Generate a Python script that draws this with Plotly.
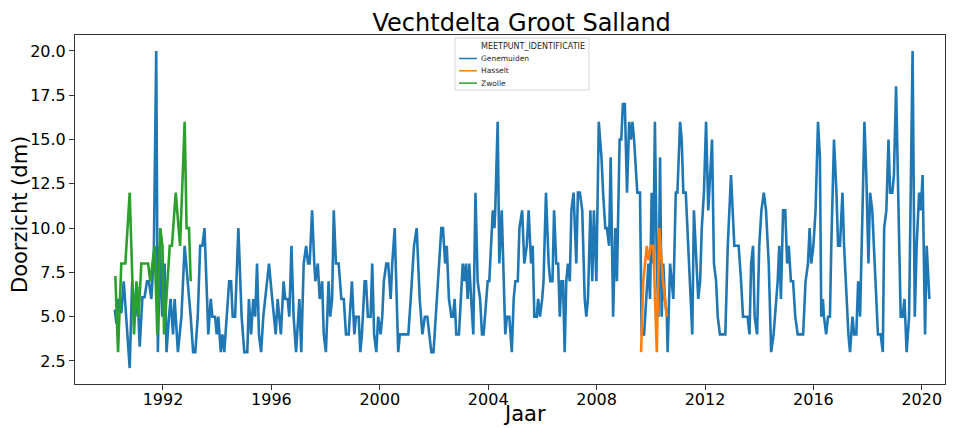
from datetime import datetime, timedelta
import plotly.graph_objects as go

# Measurement moments as decimal years, Secchi depth (dm) per station
genemuiden_jaar = [
    1990.22, 1990.28, 1990.35, 1990.46, 1990.55, 1990.65, 1990.77, 1990.86, 1990.98, 1991.05,
    1991.14, 1991.24, 1991.32, 1991.41, 1991.48, 1991.57, 1991.66, 1991.75, 1991.81, 1991.89,
    1991.97, 1992.06, 1992.13, 1992.22, 1992.28, 1992.37, 1992.43, 1992.55, 1992.68, 1992.80,
    1992.92, 1993.02, 1993.11, 1993.19, 1993.28, 1993.37, 1993.45, 1993.53, 1993.67, 1993.76,
    1993.82, 1993.92, 1993.98, 1994.04, 1994.13, 1994.19, 1994.26, 1994.35, 1994.44, 1994.51,
    1994.57, 1994.66, 1994.78, 1994.90, 1995.00, 1995.11, 1995.17, 1995.25, 1995.33, 1995.40,
    1995.47, 1995.54, 1995.62, 1995.70, 1995.91, 1996.03, 1996.16, 1996.23, 1996.35, 1996.45,
    1996.51, 1996.60, 1996.66, 1996.74, 1996.82, 1996.91, 1997.03, 1997.10, 1997.19, 1997.28,
    1997.35, 1997.41, 1997.50, 1997.58, 1997.62, 1997.71, 1997.78, 1997.87, 1997.93, 1998.01,
    1998.11, 1998.17, 1998.24, 1998.30, 1998.38, 1998.48, 1998.58, 1998.67, 1998.75, 1998.85,
    1998.97, 1999.06, 1999.12, 1999.22, 1999.28, 1999.34, 1999.44, 1999.49, 1999.56, 1999.66,
    1999.72, 1999.79, 1999.87, 1999.94, 2000.03, 2000.09, 2000.15, 2000.24, 2000.31, 2000.40,
    2000.46, 2000.55, 2000.68, 2000.74, 2000.83, 2000.95, 2001.05, 2001.14, 2001.26, 2001.36,
    2001.47, 2001.57, 2001.66, 2001.75, 2001.82, 2001.90, 2001.98, 2002.06, 2002.18, 2002.27,
    2002.33, 2002.41, 2002.47, 2002.55, 2002.64, 2002.70, 2002.76, 2002.82, 2002.92, 2003.06,
    2003.12, 2003.18, 2003.24, 2003.30, 2003.37, 2003.45, 2003.53, 2003.61, 2003.70, 2003.77,
    2003.83, 2003.92, 2003.98, 2004.04, 2004.17, 2004.23, 2004.26, 2004.35, 2004.41, 2004.50,
    2004.56, 2004.63, 2004.69, 2004.78, 2004.87, 2004.94, 2005.00, 2005.09, 2005.15, 2005.25,
    2005.33, 2005.42, 2005.49, 2005.58, 2005.64, 2005.70, 2005.79, 2005.84, 2005.91, 2005.99,
    2006.04, 2006.13, 2006.23, 2006.29, 2006.37, 2006.43, 2006.51, 2006.58, 2006.64, 2006.70,
    2006.76, 2006.82, 2006.88, 2006.94, 2007.01, 2007.07, 2007.15, 2007.25, 2007.31, 2007.38,
    2007.47, 2007.56, 2007.62, 2007.68, 2007.77, 2007.84, 2007.90, 2007.99, 2008.08, 2008.18,
    2008.24, 2008.32, 2008.38, 2008.46, 2008.52, 2008.61, 2008.69, 2008.75, 2008.85, 2008.91,
    2008.97, 2009.04, 2009.12, 2009.20, 2009.26, 2009.32, 2009.38, 2009.42, 2009.50, 2009.60,
    2009.66, 2009.75, 2009.82, 2009.91, 2009.97, 2010.03, 2010.09, 2010.15, 2010.22, 2010.28,
    2010.34, 2010.40, 2010.46, 2010.52, 2010.59, 2010.62, 2010.71, 2010.77, 2010.83, 2010.92,
    2010.98, 2011.08, 2011.14, 2011.20, 2011.29, 2011.38, 2011.45, 2011.53, 2011.59, 2011.67,
    2011.75, 2011.82, 2011.88, 2011.96, 2012.04, 2012.12, 2012.18, 2012.26, 2012.33, 2012.41,
    2012.47, 2012.55, 2012.69, 2012.75, 2012.84, 2012.96, 2013.08, 2013.16, 2013.24, 2013.33,
    2013.40, 2013.49, 2013.57, 2013.64, 2013.70, 2013.77, 2013.83, 2013.92, 2014.00, 2014.08,
    2014.17, 2014.25, 2014.35, 2014.44, 2014.53, 2014.63, 2014.68, 2014.74, 2014.80, 2014.88,
    2014.96, 2015.03, 2015.09, 2015.17, 2015.25, 2015.33, 2015.42, 2015.52, 2015.62, 2015.71,
    2015.80, 2015.86, 2015.92, 2016.00, 2016.08, 2016.17, 2016.24, 2016.29, 2016.35, 2016.39,
    2016.47, 2016.54, 2016.61, 2016.66, 2016.76, 2016.85, 2016.91, 2016.98, 2017.07, 2017.13,
    2017.22, 2017.29, 2017.35, 2017.44, 2017.50, 2017.58, 2017.65, 2017.72, 2017.81, 2017.88,
    2017.95, 2018.03, 2018.09, 2018.17, 2018.26, 2018.33, 2018.38, 2018.48, 2018.56, 2018.61,
    2018.69, 2018.77, 2018.83, 2018.91, 2018.97, 2019.05, 2019.22, 2019.29, 2019.36, 2019.44,
    2019.53, 2019.66, 2019.74, 2019.81, 2019.90, 2019.96, 2020.03, 2020.12, 2020.18, 2020.28,
]
genemuiden_dm = [
    5.4, 4.6, 6.0, 5.2, 7.0, 4.5, 2.1, 7.0, 5.0, 6.7,
    3.3, 6.1, 6.1, 7.0, 7.0, 6.0, 8.5, 20.0, 3.0, 9.0,
    5.0, 8.0, 3.0, 5.0, 6.0, 4.0, 6.0, 3.0, 5.0, 9.0,
    7.0, 5.0, 3.0, 3.0, 5.0, 9.0, 9.0, 10.0, 4.0, 6.0,
    5.0, 5.0, 4.0, 5.0, 3.0, 4.0, 3.0, 5.0, 7.0, 7.0,
    5.0, 5.0, 10.0, 5.0, 3.0, 3.0, 6.0, 4.0, 6.0, 5.0,
    8.0, 4.0, 3.0, 5.0, 8.0, 6.0, 4.0, 6.0, 4.0, 7.0,
    6.0, 6.0, 5.0, 9.0, 5.0, 3.0, 6.0, 3.0, 8.0, 9.0,
    8.0, 8.0, 11.0, 8.0, 7.0, 8.0, 6.0, 7.0, 4.0, 3.0,
    7.0, 5.0, 6.0, 11.0, 8.0, 8.0, 6.0, 6.0, 4.0, 4.0,
    7.0, 4.0, 5.0, 5.0, 3.0, 4.0, 7.0, 7.0, 5.0, 5.0,
    8.0, 4.0, 3.0, 5.0, 4.0, 5.0, 7.0, 8.0, 8.0, 6.0,
    8.0, 10.0, 3.0, 4.0, 4.0, 4.0, 4.0, 6.0, 9.0, 10.0,
    6.0, 4.0, 5.0, 5.0, 4.0, 3.0, 3.0, 5.0, 8.0, 10.0,
    10.0, 8.0, 9.0, 6.0, 5.0, 5.0, 6.0, 4.0, 4.0, 8.0,
    7.0, 8.0, 6.0, 8.0, 6.0, 4.0, 12.0, 7.0, 6.0, 4.0,
    4.0, 6.0, 7.0, 7.0, 11.0, 10.0, 11.0, 16.0, 8.0, 11.0,
    7.0, 4.0, 5.0, 5.0, 3.0, 6.0, 7.0, 7.0, 10.0, 11.0,
    8.0, 9.0, 11.0, 8.0, 9.0, 5.0, 5.0, 6.0, 5.0, 6.0,
    7.0, 12.0, 8.0, 7.0, 7.0, 11.0, 8.0, 8.0, 5.0, 7.0,
    7.0, 3.0, 7.0, 8.0, 7.0, 11.0, 12.0, 8.0, 12.0, 12.0,
    11.0, 6.0, 5.0, 6.0, 11.0, 7.0, 11.0, 7.0, 16.0, 14.0,
    12.0, 10.0, 10.0, 9.0, 14.0, 5.0, 10.0, 7.0, 15.0, 15.0,
    17.0, 17.0, 12.0, 16.0, 15.0, 16.0, 15.0, 14.0, 12.0, 12.0,
    4.0, 4.0, 6.0, 8.0, 6.0, 12.0, 8.0, 16.0, 8.0, 5.0,
    14.0, 5.0, 8.0, 6.0, 5.0, 3.0, 8.0, 7.0, 6.0, 12.0,
    12.0, 16.0, 15.0, 12.0, 12.0, 9.0, 7.0, 4.0, 11.0, 8.0,
    6.0, 7.0, 10.0, 12.0, 16.0, 11.0, 13.0, 15.0, 8.0, 7.0,
    5.0, 4.0, 4.0, 4.0, 9.0, 13.0, 9.0, 9.0, 9.0, 7.0,
    5.0, 5.0, 5.0, 4.0, 8.0, 9.0, 5.0, 4.0, 9.0, 11.0,
    12.0, 11.0, 8.0, 3.0, 4.0, 6.0, 7.0, 9.0, 6.0, 11.0,
    11.0, 8.0, 9.0, 7.0, 7.0, 5.0, 4.0, 4.0, 4.0, 7.0,
    8.0, 10.0, 8.0, 9.0, 11.0, 16.0, 14.0, 5.0, 6.0, 5.0,
    4.0, 5.0, 5.0, 9.0, 15.0, 12.0, 9.0, 9.0, 12.0, 9.0,
    6.0, 4.0, 3.0, 5.0, 4.0, 4.0, 7.0, 5.0, 11.0, 16.0,
    13.0, 8.0, 12.0, 11.0, 8.0, 5.0, 4.0, 4.0, 3.0, 10.0,
    11.0, 15.0, 12.0, 12.0, 13.0, 18.0, 5.0, 5.0, 6.0, 3.0,
    5.0, 20.0, 5.0, 9.0, 12.0, 11.0, 13.0, 4.0, 9.0, 6.0,
]

hasselt_jaar = [2009.64, 2009.72, 2009.85, 2009.91, 2010.00, 2010.09, 2010.22, 2010.31, 2010.45, 2010.59]
hasselt_dm = [3.0, 7.0, 9.0, 8.2, 9.0, 9.0, 3.0, 10.0, 7.0, 5.0]

zwolle_jaar = [
    1990.24, 1990.34, 1990.46, 1990.61, 1990.77, 1990.93, 1991.02, 1991.10, 1991.20, 1991.45,
    1991.53, 1991.69, 1991.79, 1991.90, 1991.98, 1992.04, 1992.25, 1992.33, 1992.47, 1992.63,
    1992.80, 1992.87, 1992.96, 1993.02,
]
zwolle_dm = [
    7.3, 3.0, 8.0, 8.0, 12.0, 4.0, 7.0, 5.0, 8.0, 8.0,
    7.0, 9.0, 4.0, 10.0, 9.0, 4.0, 9.0, 9.0, 12.0, 9.0,
    16.0, 10.0, 10.0, 7.0,
]

stations = ["Genemuiden", "Hasselt", "Zwolle"]
kleuren = ["#1f77b4", "#ff7f0e", "#2ca02c"]
legenda_titel = "MEETPUNT_IDENTIFICATIE"

jaar_ticks = [1992, 1996, 2000, 2004, 2008, 2012, 2016, 2020]
y_ticks = [2.5, 5.0, 7.5, 10.0, 12.5, 15.0, 17.5, 20.0]


def naar_datum(jaar):
    j = int(jaar)
    return datetime(j, 1, 1) + timedelta(days=(jaar - j) * 365.25)


FONT = "DejaVu Sans"
W, H = 959, 428
ML, MR, MT, MB = 75, 14, 35, 44
PW, PH = W - ML - MR, H - MT - MB


def px(x):
    return (x - ML) / PW


def py(y):
    return (H - MB - y) / PH


fig = go.Figure()
for naam, jaren, waarden, kleur in zip(stations, [genemuiden_jaar, hasselt_jaar, zwolle_jaar],
                                       [genemuiden_dm, hasselt_dm, zwolle_dm], kleuren):
    fig.add_trace(go.Scatter(
        x=[naar_datum(j) for j in jaren], y=waarden, mode="lines", name=naam,
        line=dict(color=kleur, width=2.6), showlegend=False,
    ))

# compact legend box drawn in paper coordinates
shapes = [dict(type="rect", xref="paper", yref="paper",
               x0=px(455), x1=px(589), y0=py(90), y1=py(38),
               line=dict(color="#d6d6d6", width=1), fillcolor="rgba(255,255,255,0.85)", layer="above")]
annotations = [dict(text=legenda_titel, xref="paper", yref="paper", x=px(480), y=py(46),
                    xanchor="left", yanchor="middle", showarrow=False, borderpad=0,
                    font=dict(size=8, family=FONT, color="#262626"))]
for i, (naam, kleur) in enumerate(zip(stations, kleuren)):
    yy = 58.5 + i * 12.3
    shapes.append(dict(type="line", xref="paper", yref="paper", x0=px(459), x1=px(477),
                       y0=py(yy), y1=py(yy), line=dict(color=kleur, width=1.5), layer="above"))
    annotations.append(dict(text=naam, xref="paper", yref="paper", x=px(480), y=py(yy),
                            xanchor="left", yanchor="middle", showarrow=False, borderpad=0,
                            font=dict(size=7.5, family=FONT, color="#262626")))

# axis titles
annotations.append(dict(text="Jaar", xref="paper", yref="paper", x=px(524), y=py(414),
                        xanchor="center", yanchor="middle", showarrow=False, borderpad=0,
                        font=dict(size=21, family=FONT, color="black")))
annotations.append(dict(text="Doorzicht (dm)", xref="paper", yref="paper", x=px(20), y=py(214),
                        xanchor="center", yanchor="middle", showarrow=False, textangle=-90,
                        font=dict(size=21, family=FONT, color="black")))

fig.update_layout(
    width=W, height=H,
    margin=dict(l=ML, r=MR, t=MT, b=MB),
    paper_bgcolor="white", plot_bgcolor="white",
    font=dict(family=FONT, color="black"),
    title=dict(text="Vechtdelta Groot Salland", x=0.544, xanchor="center", y=0.948, yanchor="middle",
               font=dict(size=24, family=FONT, color="black")),
    showlegend=False,
    shapes=shapes, annotations=annotations,
)

fig.update_xaxes(
    type="date", automargin=False,
    range=[naar_datum(1988.753), naar_datum(2020.856)],
    tickvals=[datetime(j, 1, 1) for j in jaar_ticks],
    ticktext=[str(j) for j in jaar_ticks],
    ticks="outside", ticklen=5, tickcolor="#333", tickwidth=1,
    ticklabelstandoff=-4,
    tickfont=dict(size=16, family=FONT, color="black"),
    showline=True, linecolor="#333", linewidth=1, mirror=True,
    showgrid=False, zeroline=False,
)
fig.update_yaxes(
    automargin=False,
    range=[1.2, 20.9],
    tickvals=y_ticks, ticktext=[f"{v:.1f}" for v in y_ticks],
    ticks="outside", ticklen=5, tickcolor="#333", tickwidth=1,
    tickfont=dict(size=16, family=FONT, color="black"),
    showline=True, linecolor="#333", linewidth=1, mirror=True,
    showgrid=False, zeroline=False,
)

fig.write_html("out.html")
